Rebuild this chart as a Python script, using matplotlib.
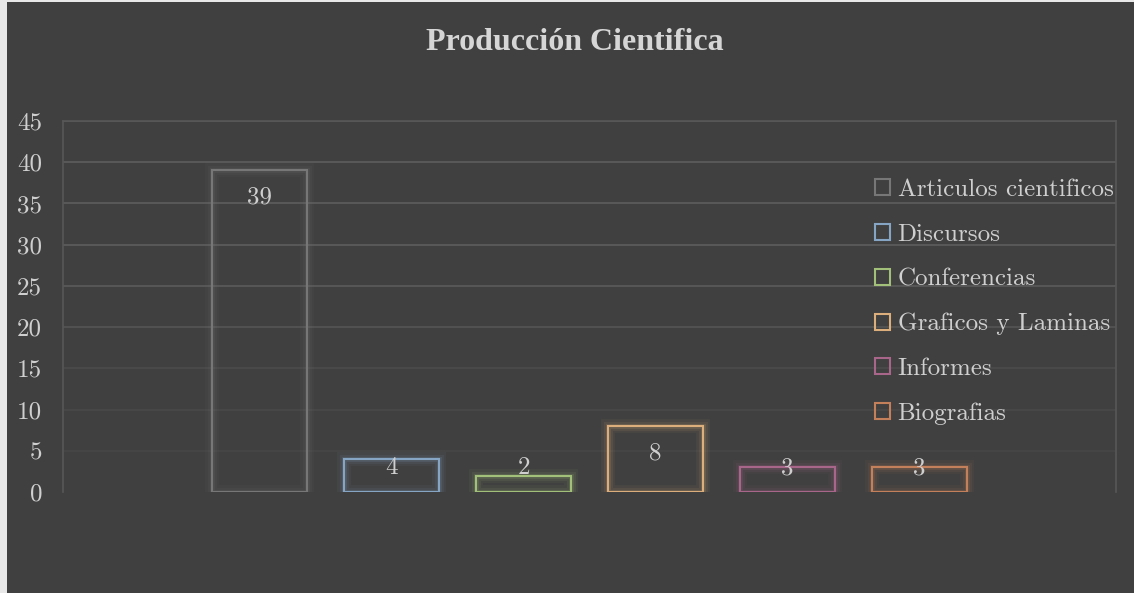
import matplotlib
matplotlib.use("Agg")
import matplotlib.pyplot as plt
import matplotlib.patheffects as pe
from matplotlib.patches import Patch, Rectangle
import numpy as np

# ---- data ----
categories = ["Articulos cientificos", "Discursos", "Conferencias",
              "Graficos y Laminas", "Informes", "Biografias"]
values = [39, 4, 2, 8, 3, 3]
colors = ["#777777", "#86a4c4", "#a2c07a", "#dcae7c", "#a8668a", "#c4805a"]
yticks = [0, 5, 10, 15, 20, 25, 30, 35, 40, 45]
title = "Producción Cientifica"

BG = "#404040"
TXT = "#cfcfcf"
NUMFONT = ["cmr10", "DejaVu Serif"]
FS = 18

fig = plt.figure(figsize=(11.34, 5.93), dpi=100, facecolor="#e8e8e8")
fig.patches.append(Rectangle((7/1134, 0), 1 - 7/1134, 1 - 2/593,
                             transform=fig.transFigure, facecolor=BG,
                             edgecolor="none", zorder=-10))

ax = fig.add_axes([63/1134, 1 - 492/593, (1116 - 63)/1134, (492 - 121)/593])
ax.set_facecolor("none")

x = np.arange(len(values))
width = 0.72
for i, (v, c) in enumerate(zip(values, colors)):
    b = ax.bar(x[i], v, width=width, facecolor="none", edgecolor=c,
               linewidth=1.5, zorder=3, label=categories[i])
    for r in b:
        r.set_path_effects([
            pe.Stroke(linewidth=10, foreground=c, alpha=0.06),
            pe.Stroke(linewidth=6.5, foreground=c, alpha=0.09),
            pe.Stroke(linewidth=3.5, foreground=c, alpha=0.15),
            pe.Normal()])
    ly = max(v - 3.27, 2.9)
    ax.text(x[i], ly, str(v), ha="center", va="center", color=TXT,
            fontsize=FS, family=NUMFONT, zorder=5)

ax.set_xlim(-1.49, 6.49)
ax.set_ylim(0, 45)
ax.set_yticks(yticks)
ax.set_yticklabels([str(t) for t in yticks], family=NUMFONT, fontsize=FS, color=TXT)
ax.set_xticks([])
ax.tick_params(axis="y", length=0, pad=15)

ax.yaxis.grid(True, color="#5e5e5e", linewidth=1.2, zorder=1)
ax.set_axisbelow(True)
alphas = [0.0, 0.2, 0.3, 0.4, 0.7, 0.9, 1, 1, 1, 1]
for g, a in zip(ax.get_ygridlines(), alphas):
    g.set_alpha(a)

ax.spines["bottom"].set_visible(False)
for s in ["left", "right", "top"]:
    ax.spines[s].set_color("#575757")
    ax.spines[s].set_linewidth(1.2)

fig.text(575/1134, 1 - 42/593, title, ha="center", va="center", color="#d6d6d6",
         fontsize=23, fontweight="bold", family="Liberation Serif")

handles = [Patch(facecolor="none", edgecolor=c, linewidth=1.5, label=n)
           for c, n in zip(colors, categories)]
leg = fig.legend(handles=handles, loc="upper left",
                 bbox_to_anchor=(875/1134, 1 - 179/593),
                 frameon=False, prop={"family": NUMFONT, "size": FS},
                 handlelength=0.6, handleheight=0.6, handletextpad=0.3,
                 labelspacing=0.9, borderpad=0, borderaxespad=0)
for t in leg.get_texts():
    t.set_color(TXT)

fig.savefig("out.png", dpi=100, facecolor=fig.get_facecolor())
